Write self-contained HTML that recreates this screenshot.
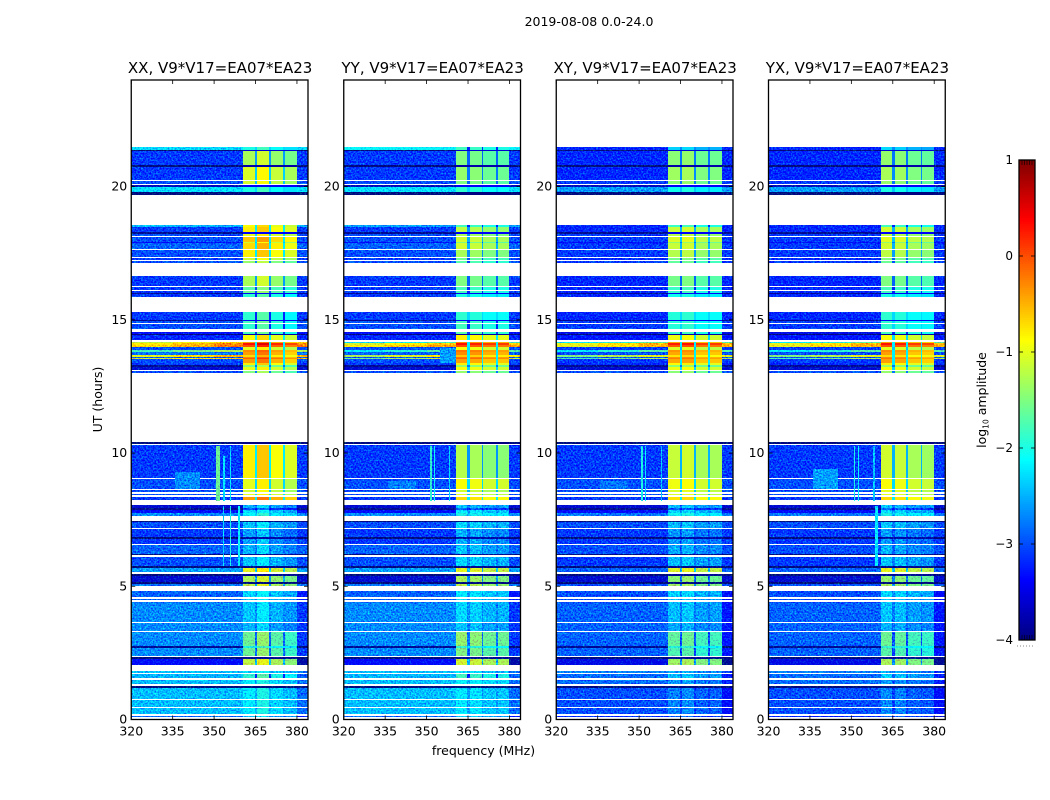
<!DOCTYPE html>
<html>
<head>
<meta charset="utf-8">
<title>2019-08-08 0.0-24.0</title>
<style>
html,body{margin:0;padding:0;background:#fff;width:1050px;height:800px;overflow:hidden}
svg{display:block}
text{font-family:"DejaVu Sans","Liberation Sans",sans-serif;fill:#000}
</style>
</head>
<body>
<svg id="figure" width="1050" height="800" viewBox="0 0 1050 800" xmlns="http://www.w3.org/2000/svg">
<defs>
<filter id="speckle" x="0" y="0" width="1" height="1" color-interpolation-filters="sRGB">
<feTurbulence type="fractalNoise" baseFrequency="0.6" numOctaves="2" seed="7" result="n"/>
<feColorMatrix in="n" type="matrix" values="0 0 0 0 0.4  1.3 0 0 0 -0.25  0 0 0 0 0.4  0 0 0 0 1" result="tint"/>
<feComposite in="SourceGraphic" in2="tint" operator="arithmetic" k1="0" k2="1" k3="1" k4="-0.4" result="mix"/>
<feComposite in="mix" in2="SourceGraphic" operator="in"/>
</filter>
</defs>
<rect width="1050" height="800" fill="#fff"/>
<text x="589" y="26" text-anchor="middle" font-size="12.5">2019-08-08 0.0-24.0</text>
<text x="483.5" y="755" text-anchor="middle" font-size="12.5">frequency (MHz)</text>
<text x="0" y="0" text-anchor="middle" font-size="12.5" transform="translate(102,399.5) rotate(-90)">UT (hours)</text>
<text x="0" y="0" text-anchor="middle" font-size="12.5" transform="translate(986,400) rotate(-90)">log<tspan font-size="7.5" dy="2.5">10</tspan><tspan dy="-2.5"> amplitude</tspan></text>
<g id="panels"></g>
<g id="colorbar"></g>
</svg>
<script>
// ---------- chart data (hours, MHz, log10 amplitude) ----------
const panelTitles = ['XX, V9*V17=EA07*EA23','YY, V9*V17=EA07*EA23','XY, V9*V17=EA07*EA23','YX, V9*V17=EA07*EA23'];
const xTickLabels = [320,335,350,365,380];
const yTickLabels = [0,5,10,15,20];
const colorbarTickLabels = [-4,-3,-2,-1,0,1];

// Time rows, top edge of each row in hours (the last value closes the final row)
const rowEdges = [21.47,21.37,21.30,20.79,20.73,20.24,20.19,20.09,20.04,19.98,19.79,19.66,
18.54,18.46,18.27,18.22,18.14,18.10,17.92,17.86,17.65,17.62,17.33,17.30,17.24,17.20,17.13,
16.64,16.26,16.21,16.11,16.08,16.00,15.94,15.83,
15.29,14.99,14.93,14.87,14.84,14.65,14.54,14.46,14.42,14.24,14.16,14.10,14.03,13.95,13.86,13.78,13.67,13.60,13.56,13.50,13.37,13.30,13.22,13.11,13.05,13.00,
10.38,10.33,10.27,9.05,9.01,8.64,8.60,8.53,8.45,8.39,8.35,8.21,
8.04,7.91,7.85,7.72,7.62,7.44,7.40,7.15,7.12,6.82,6.76,6.57,6.54,6.20,6.14,6.08,5.73,5.65,5.50,5.43,5.37,5.13,5.07,4.98,
4.79,4.56,4.51,4.47,4.39,4.34,3.64,3.61,3.29,3.27,2.74,2.65,2.35,2.31,2.27,2.03,
1.80,1.71,1.69,1.52,1.45,1.30,1.24,1.18,0.75,0.71,0.45,0.41,0.19,0.13,0.08,0];

// Off-band level per row (null = flagged, nothing plotted)
const backgroundXX = [-2.3,-4.1,-3.1,-4.1,-3.1,null,-3.0,null,-3.7,-2.25,-4.2,null,
-2.5,-3.1,-3.9,-3.0,null,-3.0,-3.4,-2.9,null,-3.0,null,-3.1,null,-3.0,null,
-3.1,null,-3.1,null,-3.1,-3.9,-3.1,null,
-3.1,-3.9,-3.0,null,-3.0,null,-3.4,-4.0,-3.2,null,-1.2,-0.8,-0.7,-3.0,-1.8,-2.8,-1.0,-3.0,-1.1,-3.0,-3.1,-3.9,-3.6,null,-3.0,null,
-4.1,null,-3.1,null,-3.0,null,-3.0,null,-3.0,null,-3.1,null,
-3.6,-3.9,-3.4,-2.7,null,-4.1,-3.0,null,-3.1,-4.0,-3.1,null,-2.9,-4.0,null,-3.0,-4.1,-2.6,null,-4.0,-3.6,-4.0,-2.8,null,
-2.9,null,-2.9,null,-2.8,-2.7,null,-2.7,null,-2.7,-3.9,-2.7,null,-4.0,-3.4,null,
-2.45,null,-2.5,null,-2.45,null,-4.0,-2.45,null,-2.45,null,-2.45,null,-2.9,null];

const backgroundYY = [-2.1,-4.1,-3.1,-4.1,-3.1,null,-3.0,null,-3.7,-2.25,-4.2,null,
-2.6,-3.1,-3.9,-3.0,null,-3.0,-3.4,-2.9,null,-3.0,null,-3.1,null,-3.0,null,
-3.1,null,-3.1,null,-3.1,-3.9,-3.1,null,
-3.1,-3.9,-3.0,null,-3.0,null,-3.4,-4.0,-3.2,null,-2.3,-1.1,-0.9,-3.0,-2.2,-2.9,-1.3,-3.0,-1.6,-3.0,-3.1,-3.9,-3.6,null,-3.0,null,
-4.1,null,-3.1,null,-3.0,null,-3.0,null,-3.0,null,-3.1,null,
-3.6,-3.9,-3.4,-2.7,null,-4.1,-3.0,null,-3.1,-4.0,-3.1,null,-2.9,-4.0,null,-3.0,-4.1,-2.6,null,-4.0,-3.6,-4.0,-2.8,null,
-2.9,null,-2.9,null,-2.8,-2.7,null,-2.7,null,-2.7,-3.9,-2.7,null,-4.0,-3.4,null,
-2.45,null,-2.5,null,-2.45,null,-4.0,-2.45,null,-2.45,null,-2.45,null,-2.9,null];

const backgroundCross = [-3.2,-4.1,-3.2,-4.1,-3.2,null,-3.1,null,-3.7,-2.6,-4.2,null,
-3.2,-3.2,-3.9,-3.1,null,-3.1,-3.4,-3.1,null,-3.1,null,-3.2,null,-3.1,null,
-3.2,null,-3.2,null,-3.2,-3.9,-3.2,null,
-3.2,-3.9,-3.1,null,-3.1,null,-3.5,-4.0,-3.3,null,-2.2,-1.0,-1.0,-3.1,-2.2,-3.0,-1.5,-3.0,-1.8,-3.1,-3.2,-3.9,-3.6,null,-3.0,null,
-4.1,null,-3.1,null,-3.0,null,-3.0,null,-3.0,null,-3.1,null,
-3.6,-3.9,-3.4,-2.8,null,-4.1,-3.0,null,-3.1,-4.0,-3.1,null,-3.0,-4.0,null,-3.1,-4.1,-2.9,null,-4.0,-3.6,-4.0,-3.0,null,
-3.0,null,-3.0,null,-3.0,-2.9,null,-2.9,null,-2.9,-3.9,-2.9,null,-4.0,-3.5,null,
-2.75,null,-2.85,null,-2.85,null,-4.0,-3.0,null,-3.0,null,-3.0,null,-3.2,null];

// Level inside the 360-380 MHz bright band per row
const bandXX = [-2.0,-3.6,-1.3,-3.8,-1.05,null,-1.1,null,-3.4,-2.0,-4.2,null,
-0.9,-0.8,-3.4,-1.0,null,-0.6,-1.1,-0.7,null,-0.8,null,-1.1,null,-1.4,null,
-1.3,null,-1.7,null,-1.6,-3.4,-1.9,null,
-1.9,-3.4,-1.8,null,-1.9,null,-1.8,-3.8,-0.9,null,-0.4,0.3,0.0,-1.0,-0.3,-0.4,-0.7,-0.3,-0.1,-0.4,-0.8,-1.5,-1.0,null,-1.5,null,
-4.1,null,-0.8,null,-1.0,null,-1.1,null,-1.0,null,-0.4,null,
-2.5,-3.0,-2.3,-2.1,null,-4.1,-2.4,null,-2.6,-3.8,-2.6,null,-2.5,-3.9,null,-2.4,-3.9,-1.0,null,-3.9,-1.3,-4.0,-1.2,null,
-2.3,null,-2.4,null,-2.4,-2.4,null,-2.5,null,-1.6,-2.0,-1.6,null,-3.9,-1.2,null,
-2.3,null,-1.9,null,-2.2,null,-4.0,-2.2,null,-2.2,null,-2.2,null,-2.5,null];

const bandYY = [-1.9,-3.6,-1.6,-3.8,-1.5,null,-1.6,null,-3.4,-2.0,-4.2,null,
-1.9,-1.3,-3.4,-1.4,null,-1.2,-1.6,-1.2,null,-1.4,null,-1.7,null,-1.8,null,
-1.6,null,-1.9,null,-1.9,-3.4,-2.1,null,
-2.0,-3.4,-1.9,null,-1.9,null,-1.8,-3.8,-0.9,null,-0.4,0.2,-0.1,-1.0,-0.3,-0.4,-0.7,-0.3,-0.2,-0.5,-0.9,-1.5,-1.0,null,-1.5,null,
-4.1,null,-1.35,null,-1.0,null,-1.2,null,-1.1,null,-0.8,null,
-2.5,-3.0,-2.3,-2.1,null,-4.1,-2.4,null,-2.6,-3.8,-2.6,null,-2.5,-3.9,null,-2.4,-3.9,-1.1,null,-3.9,-1.4,-4.0,-1.3,null,
-2.3,null,-2.4,null,-2.4,-2.4,null,-2.5,null,-1.5,-2.0,-1.6,null,-3.9,-1.2,null,
-2.3,null,-1.9,null,-2.2,null,-4.0,-2.3,null,-2.3,null,-2.3,null,-2.5,null];

const bandCross = [-2.4,-3.6,-1.5,-3.8,-1.4,null,-1.5,null,-3.4,-2.1,-4.2,null,
-1.9,-1.2,-3.4,-1.3,null,-1.1,-1.5,-1.2,null,-1.3,null,-1.6,null,-1.7,null,
-1.6,null,-1.9,null,-1.9,-3.4,-2.1,null,
-2.0,-3.4,-2.0,null,-2.0,null,-1.9,-3.8,-1.0,null,-0.5,0.2,-0.1,-1.1,-0.4,-0.5,-0.8,-0.4,-0.3,-0.5,-0.9,-1.5,-1.0,null,-1.5,null,
-4.1,null,-1.2,null,-1.0,null,-1.1,null,-1.1,null,-0.8,null,
-2.5,-3.0,-2.4,-2.1,null,-4.1,-2.5,null,-2.7,-3.8,-2.7,null,-2.6,-3.9,null,-2.5,-3.9,-1.1,null,-3.9,-1.5,-4.0,-1.4,null,
-2.4,null,-2.5,null,-2.5,-2.5,null,-2.6,null,-1.7,-2.0,-1.8,null,-3.9,-1.4,null,
-2.6,null,-2.5,null,-2.7,null,-4.0,-2.8,null,-2.8,null,-2.8,null,-3.0,null];

// Relative level of the four sub-bands
const subBandOffsetsXX = [0,0.2,-0.1,-0.25];
const subBandOffsetsYY = [0.1,0.05,-0.1,-0.1];
const subBandOffsetsXY = [0.05,0.1,-0.1,-0.1];
const subBandOffsetsYX = [0.1,0.05,-0.1,-0.15];
const notchDepth = [1.3];
const notchCeiling = [-2.2];
const faintNotchDepth = [0.3];

// Frequency edges of the band structure (MHz)
const bandFreqEdges = [360.6,364.8,365.7,369.9,370.6,375.1,375.7,379.9];
const offBandFreqEdges = [320,335,350,360.6];
const freqEnd = [384];

// Interference ramp towards the band around 14 h
const rampStartHour = [13.5];
const rampEndHour = [14.2];
const rampAmount = [0.5];
// Dimming of the top edge of the frequency range during the first hours
const edgeDimEndHour = [5];
const edgeDimAmount = [0.4];
// Below this hour the band is noisy rather than smooth
const noisyBandEndHour = [8.1];

// Localised features
const featurePanel =     [0,0,0,0,0,0,0,  1,1,1,1,1,  2,2,2,2,  3,3,3,3,3];
const featureFreqStart = [336,350.8,353.4,355.7,353.3,355.7,358.7,  336,351.2,352.8,358,355,  336,350.8,352,358,  336,350.8,352.3,358,358.7];
const featureFreqEnd =   [345,352,353.9,356.1,353.7,356.1,359.5,  346,351.9,353.2,358.4,360.6,  346,351.5,352.4,358.4,  345,351.5,352.7,358.4,359.5];
const featureHourStart = [8.65,8.21,8.21,8.21,5.75,5.75,5.75,  8.65,8.21,8.21,8.21,13.37,  8.65,8.21,8.21,8.21,  8.65,8.21,8.21,8.21,5.75];
const featureHourEnd =   [9.3,10.27,9.9,10.27,8,8,8,  8.95,10.27,10.27,10.27,13.95,  8.95,10.27,10.27,10.27,  9.4,10.27,10.27,10.27,8];
const featureLevel =     [-2.7,-1.6,-2.2,-2.2,-2.3,-2.0,-2.1,  -2.75,-1.9,-2.1,-2.3,-2.6,  -2.8,-2.0,-2.2,-2.4,  -2.6,-2.0,-2.1,-2.4,-2.2];

// ---------- layout ----------
const panelLefts = [131.25,343.75,556.25,768.5];
const panelWidth = 176.75, plotTop = 80, plotHeight = 639.5, hourMax = 24, freqStart = 320;
const cbLeft = 1019, cbWidth = 16, cbTop = 160, cbHeight = 480, cbMin = -4, cbMax = 1;
const NS = 'http://www.w3.org/2000/svg';

function xScale(panel, freq) { return panelLefts[panel] + (freq - freqStart) / (freqEnd[0] - freqStart) * panelWidth; }
function yScale(hour) { return plotTop + plotHeight * (1 - hour / hourMax); }
function cbScale(level) { return cbTop + cbHeight * (cbMax - level) / (cbMax - cbMin); }

function jetPart(v) { return Math.max(0, Math.min(1, v)); }
function jet(level) {
  const t = jetPart((level - cbMin) / (cbMax - cbMin));
  const r = jetPart(Math.min(4 * t - 1.5, -4 * t + 4.5));
  const g = jetPart(Math.min(4 * t - 0.5, -4 * t + 3.5));
  const b = jetPart(Math.min(4 * t + 0.5, -4 * t + 2.5));
  return 'rgb(' + Math.round(r * 255) + ',' + Math.round(g * 255) + ',' + Math.round(b * 255) + ')';
}
function make(tag, attrs, parent) {
  const el = document.createElementNS(NS, tag);
  for (const k in attrs) el.setAttribute(k, attrs[k]);
  parent.appendChild(el);
  return el;
}
function cell(parent, x0, x1, y0, y1, level) {
  const x = Math.round(x0), y = Math.round(y0);
  const w = Math.max(1, Math.round(x1) - x), h = Math.max(1, Math.round(y1) - y);
  return make('rect', { x: x, y: y, width: w, height: h, fill: jet(level), 'shape-rendering': 'crispEdges' }, parent);
}

const panelsRoot = document.getElementById('panels');
const backgroundSeries = [backgroundXX, backgroundYY, backgroundCross, backgroundCross];
const bandSeries = [bandXX, bandYY, bandCross, bandCross];
const subBandSeries = [subBandOffsetsXX, subBandOffsetsYY, subBandOffsetsXY, subBandOffsetsYX];
const panelKeys = ['xx', 'yy', 'xy', 'yx'];

panelTitles.forEach(function (title, p) {
  const g = make('g', {}, panelsRoot);
  
  

  const heat = make('g', { filter: 'url(#speckle)' }, g);
  
  
  const smooth = make('g', {}, g);
  
  

  const bg = backgroundSeries[p], band = bandSeries[p], sub = subBandSeries[p];
  for (let r = 0; r < bg.length; r++) {
    if (bg[r] === null) continue;
    const y0 = yScale(rowEdges[r]) - 0.5, y1 = yScale(rowEdges[r + 1]) - 0.5;
    const mid = (rowEdges[r] + rowEdges[r + 1]) / 2;
    const ramp = (mid > rampStartHour[0] && mid < rampEndHour[0] && bg[r] > -2.5) ? rampAmount[0] : 0;
    // off-band columns
    for (let c = 0; c < offBandFreqEdges.length - 1; c++) {
      const rect = cell(heat, xScale(p, offBandFreqEdges[c]), xScale(p, offBandFreqEdges[c + 1]), y0, y1, bg[r] + ramp * c / 2);
      
      
    }
    // sub-bands and notches
    const bandGroup = mid < noisyBandEndHour[0] ? heat : smooth;
    for (let c = 0; c < bandFreqEdges.length - 1; c++) {
      const isNotch = c % 2 === 1;
      const dark = band[r] < -3;
      let level = band[r];
      if (!dark) {
        if (isNotch) {
          level = band[r] > -2 ? Math.min(band[r] - notchDepth[0], notchCeiling[0]) : band[r] - faintNotchDepth[0];
        } else {
          level = band[r] + sub[c / 2];
        }
      }
      const rect = cell(bandGroup, xScale(p, bandFreqEdges[c]), xScale(p, bandFreqEdges[c + 1]), y0, y1, level);
      
      
    }
    // top of frequency range
    const dim = mid < edgeDimEndHour[0] ? edgeDimAmount[0] : 0;
    const edgeRect = cell(heat, xScale(p, bandFreqEdges[bandFreqEdges.length - 1]), xScale(p, freqEnd[0]), y0, y1, bg[r] + ramp - dim);
    
    
  }
  featurePanel.forEach(function (owner, i) {
    if (owner !== p) return;
    const f = cell(heat, xScale(p, featureFreqStart[i]), xScale(p, featureFreqEnd[i]), yScale(featureHourEnd[i]), yScale(featureHourStart[i]), featureLevel[i]);
    
    
  });

  // frame
  const frame = make('rect', { x: panelLefts[p], y: plotTop, width: panelWidth, height: plotHeight, fill: 'none', stroke: '#000', 'stroke-width': 1.3 }, g);
  
  

  // x ticks
  xTickLabels.forEach(function (v) {
    const x = xScale(p, v);
    const bottom = make('line', { x1: x, x2: x, y1: plotTop + plotHeight, y2: plotTop + plotHeight - 4, stroke: '#000', 'stroke-width': 0.8 }, g);
    
    
    const top = make('line', { x1: x, x2: x, y1: plotTop, y2: plotTop + 4, stroke: '#000', 'stroke-width': 0.8 }, g);
    
    
    const t = make('text', { x: x, y: plotTop + plotHeight + 16, 'text-anchor': 'middle', 'font-size': 12.5 }, g);
    t.textContent = String(v);
    
    
  });
  // y ticks
  yTickLabels.forEach(function (v) {
    const y = yScale(v);
    const left = make('line', { x1: panelLefts[p], x2: panelLefts[p] + 4, y1: y, y2: y, stroke: '#000', 'stroke-width': 0.8 }, g);
    
    
    const right = make('line', { x1: panelLefts[p] + panelWidth, x2: panelLefts[p] + panelWidth - 4, y1: y, y2: y, stroke: '#000', 'stroke-width': 0.8 }, g);
    
    
    const t = make('text', { x: panelLefts[p] - 4, y: y + 4, 'text-anchor': 'end', 'font-size': 12.5 }, g);
    t.textContent = String(v);
    
    
  });
  // title
  const ttl = make('text', { x: panelLefts[p] + panelWidth / 2 + 0.5, y: 73, 'text-anchor': 'middle', 'font-size': 15 }, g);
  ttl.textContent = title;
  
  
});

// ---------- colour bar ----------
const cbRoot = document.getElementById('colorbar');
for (let i = 0; i < 240; i++) {
  const y0 = cbTop + i * cbHeight / 240;
  const level = cbMax - (i + 0.5) * (cbMax - cbMin) / 240;
  const s = make('rect', { x: cbLeft, y: y0, width: cbWidth, height: cbHeight / 240 + 0.5, fill: jet(level), 'shape-rendering': 'crispEdges' }, cbRoot);
  
  
}
const cbFrame = make('rect', { x: cbLeft, y: cbTop, width: cbWidth, height: cbHeight, fill: 'none', stroke: '#000', 'stroke-width': 1.3 }, cbRoot);


colorbarTickLabels.forEach(function (v) {
  const y = cbScale(v);
  const a = make('line', { x1: cbLeft, x2: cbLeft + 4, y1: y, y2: y, stroke: '#000', 'stroke-width': 0.8 }, cbRoot);
  
  
  const b = make('line', { x1: cbLeft + cbWidth, x2: cbLeft + cbWidth - 4, y1: y, y2: y, stroke: '#000', 'stroke-width': 0.8 }, cbRoot);
  
  
  const t = make('text', { x: cbLeft - 6, y: y + 4, 'text-anchor': 'end', 'font-size': 12 }, cbRoot);
  t.textContent = v < 0 ? '\u2212' + Math.abs(v) : String(v);
  
  
});
for (let i = 0; i < 5; i++) {
  const xm = cbLeft + 3 + i * 2.5;
  const topMinor = make('line', { x1: xm, x2: xm, y1: cbTop, y2: cbTop + 5, stroke: '#000', 'stroke-width': 0.6 }, cbRoot);
  
  
  const bottomMinor = make('line', { x1: xm, x2: xm, y1: cbTop + cbHeight, y2: cbTop + cbHeight - 5, stroke: '#000', 'stroke-width': 0.6 }, cbRoot);
  
  
}
const dots = make('line', { x1: 1017, x2: 1035, y1: 646, y2: 646, stroke: '#888', 'stroke-width': 1, 'stroke-dasharray': '1 2' }, cbRoot);


</script>
</body>
</html>
